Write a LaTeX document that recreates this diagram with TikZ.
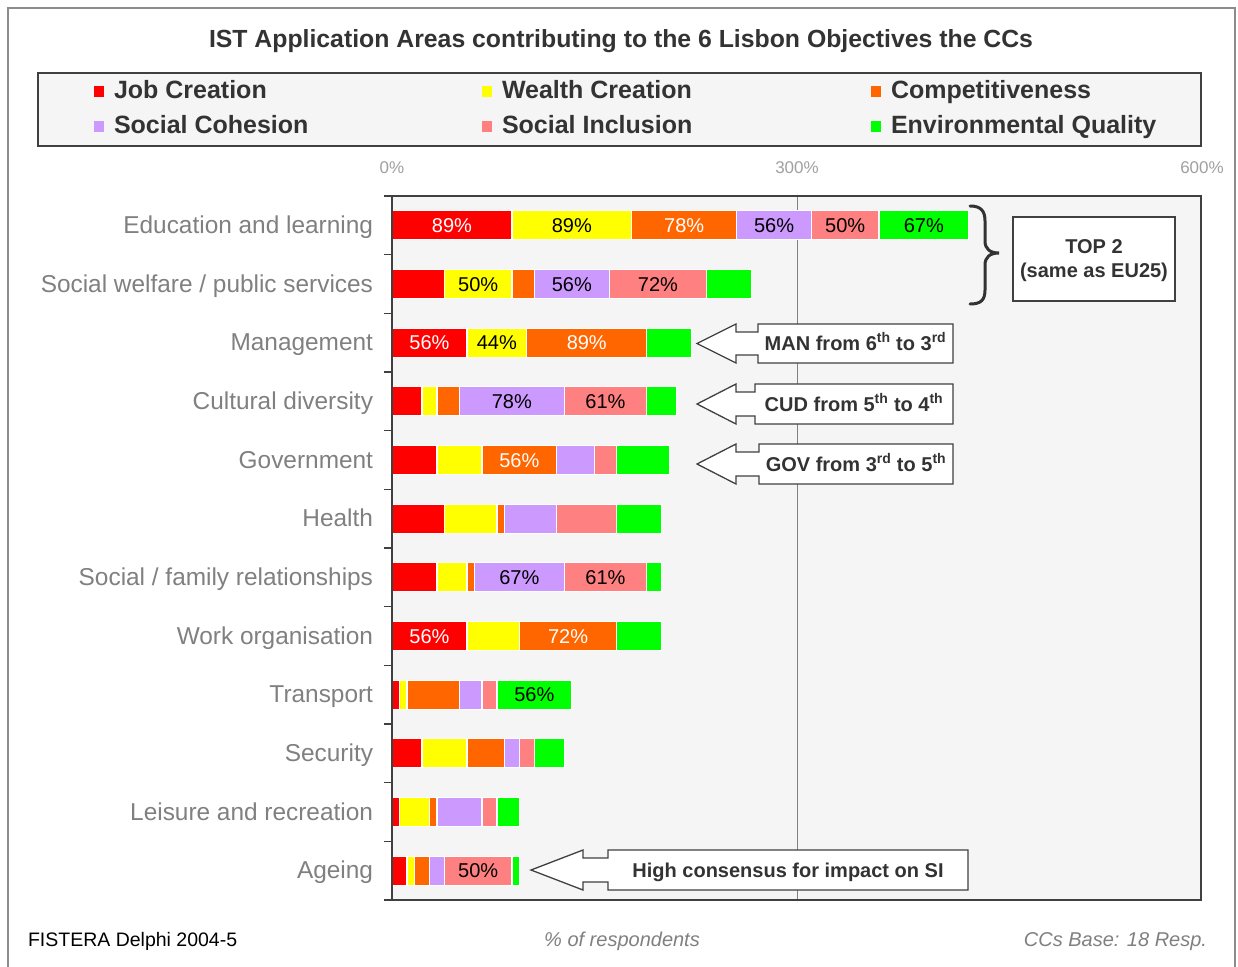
\documentclass[tikz,border=0pt]{standalone}
\usepackage{fontspec}
\setmainfont{Liberation Sans}
\definecolor{cR}{HTML}{FF0000}
\definecolor{cY}{HTML}{FFFF00}
\definecolor{cO}{HTML}{FF6600}
\definecolor{cP}{HTML}{CC99FF}
\definecolor{cK}{HTML}{FF8080}
\definecolor{cG}{HTML}{00FF00}
\definecolor{framegray}{HTML}{8C8C8C}
\definecolor{darkline}{HTML}{404040}
\definecolor{darktext}{HTML}{333333}
\definecolor{plotbg}{HTML}{F5F5F5}
\definecolor{catgray}{HTML}{808080}
\definecolor{axisgray}{HTML}{A0A0A0}
\newcommand{\unitw}{7.4907}
\newcommand{\seg}[4]{\fill[#4, draw=white, line width=1.3pt] ({392+#2*\unitw},{#1-14.5}) rectangle ({392+#3*\unitw},{#1+14.5});}
\newcommand{\barrow}[7]{\seg{#1}{0}{#2}{cR}\seg{#1}{#2}{#3}{cY}\seg{#1}{#3}{#4}{cO}\seg{#1}{#4}{#5}{cP}\seg{#1}{#5}{#6}{cK}\seg{#1}{#6}{#7}{cG}}
\newcommand{\seglbl}[6]{\node[barlbl, text=#5] (#1) at ({392+(#3+#4)*0.5*\unitw},{#2+7.2}) {#6};}
\newcommand{\callout}[8]{%
 \draw[callline] (#2,{(#6+#7)/2}) -- (#3,#6) -- (#3,{#6+8}) -- (#4,{#6+8}) -- (#4,#6) -- (#5,#6) -- (#5,#7) -- (#4,#7) -- (#4,{#7-8}) -- (#3,{#7-8}) -- (#3,#7) -- cycle;
 \node[calltext] (#1) at ({(#4+#5)/2},{(#6+#7)/2+7}) {#8};}
\tikzset{
 every node/.style={inner sep=0pt, outer sep=0pt},
 barlbl/.style={anchor=base, font=\fontsize{20}{24}\selectfont},
 catlbl/.style={anchor=base east, text=catgray, font=\fontsize{24.4}{28}\selectfont},
 leglbl/.style={anchor=base west, text=darktext, font=\fontsize{25}{29}\selectfont\bfseries},
 axlbl/.style={anchor=base, text=axisgray, font=\fontsize{17}{20}\selectfont},
 callline/.style={draw=darkline, fill=white, line width=1.3pt, line join=miter},
 calltext/.style={anchor=base, text=darktext, font=\fontsize{20}{24}\selectfont\bfseries},
}
\begin{document}
\begin{tikzpicture}[x=1pt,y=-1pt]
\useasboundingbox (0,0) rectangle (1238,966);
\fill[white] (0,0) rectangle (1238,966);
\draw[framegray, line width=2pt] (8,970) -- (8,8) -- (1235,8) -- (1235,970);
% title
\node[anchor=base, text=darktext, font=\fontsize{24.8}{29}\selectfont\bfseries] (title) at (621,48) {IST Application Areas contributing to the 6 Lisbon Objectives the CCs};
% legend
\draw[fill=plotbg, draw=darkline, line width=1.3pt] (38,73) rectangle (1201,146);
\fill[cR] (94,86) rectangle (104,97);
\fill[cY] (482,86) rectangle (492,97);
\fill[cO] (871,86) rectangle (881,97);
\fill[cP] (94,121) rectangle (104,132);
\fill[cK] (482,121) rectangle (492,132);
\fill[cG] (871,121) rectangle (881,132);
\node[leglbl] (l1) at (114,98) {Job Creation};
\node[leglbl] (l2) at (502,98) {Wealth Creation};
\node[leglbl] (l3) at (891,98) {Competitiveness};
\node[leglbl] (l4) at (114,133) {Social Cohesion};
\node[leglbl] (l5) at (502,133) {Social Inclusion};
\node[leglbl] (l6) at (891,133) {Environmental Quality};
% axis labels
\node[axlbl] (a0) at (392,173) {0\%};
\node[axlbl] (a300) at (797,173) {300\%};
\node[axlbl] (a600) at (1202,173) {600\%};
% plot area
\fill[plotbg] (392,196) rectangle (1201,900);
\draw[catgray, line width=1pt] (797,196) -- (797,900);
% bars
\barrow{225.3}{16}{32}{46}{56}{65}{77}
\barrow{284}{7}{16}{19}{29}{42}{48}
\barrow{342.7}{10}{18}{34}{34}{34}{40}
\barrow{401.3}{4}{6}{9}{23}{34}{38}
\barrow{460}{6}{12}{22}{27}{30}{37}
\barrow{518.7}{7}{14}{15}{22}{30}{36}
\barrow{577.3}{6}{10}{11}{23}{34}{36}
\barrow{636}{10}{17}{30}{30}{30}{36}
\barrow{694.7}{1}{2}{9}{12}{14}{24}
\barrow{753.3}{4}{10}{15}{17}{19}{23}
\barrow{812}{1}{5}{6}{12}{14}{17}
\barrow{870.7}{2}{3}{5}{7}{16}{17}
% bar labels
\seglbl{b1a}{225.3}{0}{16}{white}{89\%}
\seglbl{b1b}{225.3}{16}{32}{black}{89\%}
\seglbl{b1c}{225.3}{32}{46}{white}{78\%}
\seglbl{b1d}{225.3}{46}{56}{black}{56\%}
\seglbl{b1e}{225.3}{56}{65}{black}{50\%}
\seglbl{b1f}{225.3}{65}{77}{black}{67\%}
\seglbl{b2b}{284}{7}{16}{black}{50\%}
\seglbl{b2d}{284}{19}{29}{black}{56\%}
\seglbl{b2e}{284}{29}{42}{black}{72\%}
\seglbl{b3a}{342.7}{0}{10}{white}{56\%}
\seglbl{b3b}{342.7}{10}{18}{black}{44\%}
\seglbl{b3c}{342.7}{18}{34}{white}{89\%}
\seglbl{b4d}{401.3}{9}{23}{black}{78\%}
\seglbl{b4e}{401.3}{23}{34}{black}{61\%}
\seglbl{b5c}{460}{12}{22}{white}{56\%}
\seglbl{b7d}{577.3}{11}{23}{black}{67\%}
\seglbl{b7e}{577.3}{23}{34}{black}{61\%}
\seglbl{b8a}{636}{0}{10}{white}{56\%}
\seglbl{b8c}{636}{17}{30}{white}{72\%}
\seglbl{b9f}{694.7}{14}{24}{black}{56\%}
\seglbl{b12e}{870.7}{7}{16}{black}{50\%}
% plot frame
\draw[darkline, line width=2pt] (392,196) rectangle (1201,900);
\foreach \k in {0,...,12} \draw[darkline, line width=1.2pt] (384,{196+\k*58.667}) -- (392,{196+\k*58.667});
% categories
\node[catlbl] (c1) at (373,233.4) {Education and learning};
\node[catlbl] (c2) at (373,292.1) {Social welfare / public services};
\node[catlbl] (c3) at (373,350.8) {Management};
\node[catlbl] (c4) at (373,409.4) {Cultural diversity};
\node[catlbl] (c5) at (373,468.1) {Government};
\node[catlbl] (c6) at (373,526.8) {Health};
\node[catlbl] (c7) at (373,585.4) {Social / family relationships};
\node[catlbl] (c8) at (373,644.1) {Work organisation};
\node[catlbl] (c9) at (373,702.8) {Transport};
\node[catlbl] (c10) at (373,761.4) {Security};
\node[catlbl] (c11) at (373,820.1) {Leisure and recreation};
\node[catlbl] (c12) at (373,878.8) {Ageing};
% brace and TOP 2 box
\draw[darktext, line width=3pt, line cap=round] (970,206) .. controls (981,206) and (985,211) .. (985,221) -- (985,241) .. controls (985,249) and (990,253) .. (999,253) .. controls (990,253) and (985,257) .. (985,265) -- (985,290) .. controls (985,300) and (981,304) .. (970,304);
\draw[fill=white, draw=darkline, line width=1.5pt] (1013,217) rectangle (1175,301);
\node[calltext] (top2a) at (1094,253.3) {TOP 2};
\node[calltext] (top2b) at (1094,277.3) {(same as EU25)};
% callouts
\callout{man}{697}{736}{758}{953}{324}{363}{MAN from 6\textsuperscript{th} to 3\textsuperscript{rd}}
\callout{cud}{697}{736}{755}{953}{384}{424}{CUD from 5\textsuperscript{th} to 4\textsuperscript{th}}
\callout{gov}{697}{736}{759}{953}{444}{484}{GOV from 3\textsuperscript{rd} to 5\textsuperscript{th}}
\callout{si}{531}{583}{608}{968}{850}{890}{High consensus for impact on SI}
% footer
\node[anchor=base west, text=black, font=\fontsize{19.5}{23}\selectfont] (f1) at (28,946) {FISTERA Delphi 2004-5};
\node[anchor=base, text=catgray, font=\fontsize{20}{24}\selectfont\itshape] (f2) at (622,946) {\% of respondents};
\node[anchor=base east, text=catgray, font=\fontsize{20}{24}\selectfont\itshape] (f3) at (1207,946) {CCs Base: 18 Resp.};
\end{tikzpicture}
\end{document}
